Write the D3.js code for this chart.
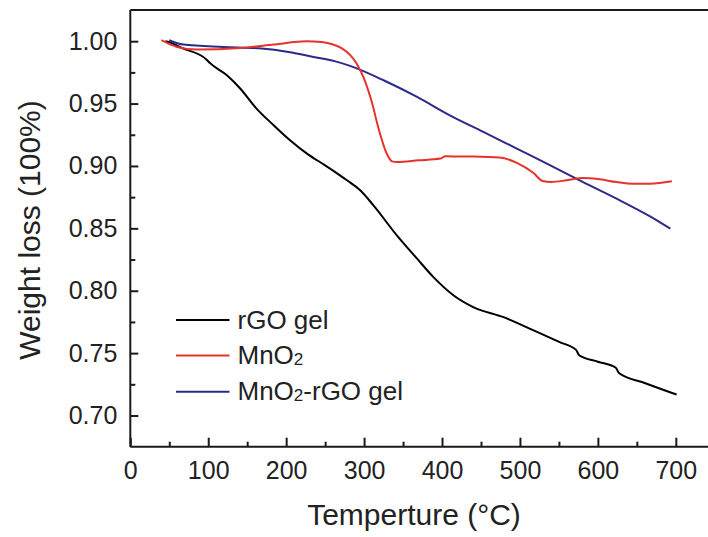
<!DOCTYPE html>
<html>
<head>
<meta charset="utf-8">
<script src="https://cdn.jsdelivr.net/npm/d3@7"></script>
<style>
  html, body { margin: 0; padding: 0; background: #fff; }
  svg { display: block; font-family: "Liberation Sans", Arial, sans-serif; }
</style>
</head>
<body>
<svg id="chart" width="708" height="537"></svg>
<script>
// ---- Data ----
const xTicks = [0, 100, 200, 300, 400, 500, 600, 700];
const xMinorTicks = [50, 150, 250, 350, 450, 550, 650, 750];
const yTicks = [0.70, 0.75, 0.80, 0.85, 0.90, 0.95, 1.00];
const yMinorTicks = [0.725, 0.775, 0.825, 0.875, 0.925, 0.975];

const rgoTemp = [45, 50, 66, 98, 102, 124, 141, 162, 184, 205, 228, 250, 269, 278, 295, 312, 342, 368, 389, 415, 440, 479, 513, 551, 572, 576, 600, 623, 627, 660, 701];
const rgoWeight = [1.000, 0.9992, 0.9946, 0.9852, 0.9826, 0.9727 + 0.000, 0.9621, 0.946, 0.9326, 0.9206, 0.9093, 0.9005, 0.8925, 0.8885, 0.8805, 0.8684, 0.8444, 0.8257, 0.8109, 0.7962, 0.7869, 0.7788, 0.7695, 0.7588, 0.7526, 0.7483, 0.7431, 0.7383, 0.7341, 0.7261, 0.7168];

const mno2Temp = [40, 60, 85, 141, 184, 226, 245, 258, 271, 282, 290, 299, 310, 318, 329, 336, 342, 370, 398, 404, 440, 474, 496, 517, 529, 540, 560, 581, 600, 624, 645, 667, 695];
const mno2Weight = [1.0008, 0.9954, 0.9933, 0.9946, 0.9973, 1.000, 0.9994, 0.9978, 0.9945, 0.9890, 0.9825, 0.9714, 0.9510, 0.9313, 0.9100, 0.9037, 0.9032, 0.9045, 0.9059, 0.9077, 0.9075, 0.9067, 0.9025, 0.8945, 0.8880, 0.8872, 0.8885, 0.8903, 0.8895, 0.8871, 0.8858, 0.8858, 0.8877];

const compTemp = [50, 68, 119, 165, 205, 235, 262, 282, 325, 368, 410, 453, 496, 539, 581, 624, 667, 693];
const compWeight = [1.0008, 0.9973, 0.9954, 0.9943, 0.9912, 0.9874, 0.9840, 0.9802, 0.9687, 0.9553, 0.9406, 0.9273, 0.9139, 0.9005, 0.8871, 0.8738, 0.8596, 0.8497];

const seriesNames = ["rGO gel", "MnO2", "MnO2-rGO gel"];
const seriesColors = ["#000000", "#e5332b", "#2c2a88"];

// ---- Layout ----
const svg = d3.select("#chart");
const W = 708, H = 537;
const plotLeft = 130.3, plotTop = 10, plotBottom = 446.7;

const x = d3.scaleLinear().domain([0, 780]).range([plotLeft, plotLeft + 780 * 0.7793]);
const y = d3.scaleLinear().domain([0.675, 1.025]).range([plotBottom, plotTop]);

const tickFont = 25;
const axisColor = "#1a1a1a";

// frame top
svg.append("line")
  .attr("x1", plotLeft).attr("x2", W + 5)
  .attr("y1", plotTop).attr("y2", plotTop)
  .attr("stroke", axisColor).attr("stroke-width", 2);

// X axis
const gx = svg.append("g").attr("transform", `translate(0,${plotBottom})`)
  .call(d3.axisBottom(x).tickValues(xTicks).tickSize(-9).tickSizeOuter(0).tickPadding(15).tickFormat(d3.format("d")));
gx.select(".domain").attr("d", `M${plotLeft},0H${W + 5}`).attr("stroke", axisColor).attr("stroke-width", 2);
gx.selectAll(".tick line").attr("stroke", axisColor).attr("stroke-width", 2);
gx.selectAll("text").attr("font-size", tickFont).attr("fill", "#222").attr("font-family", "Liberation Sans, Arial, sans-serif");

const gxm = svg.append("g").attr("transform", `translate(0,${plotBottom})`)
  .call(d3.axisBottom(x).tickValues(xMinorTicks).tickSize(-5).tickSizeOuter(0).tickFormat(""));
gxm.select(".domain").remove();
gxm.selectAll(".tick line").attr("stroke", axisColor).attr("stroke-width", 2);

// Y axis
const gy = svg.append("g").attr("transform", `translate(${plotLeft},0)`)
  .call(d3.axisLeft(y).tickValues(yTicks).tickSize(-8).tickSizeOuter(0).tickPadding(13).tickFormat(d3.format(".2f")));
gy.select(".domain").attr("d", `M0,${plotTop}V${plotBottom}`).attr("stroke", axisColor).attr("stroke-width", 2);
gy.selectAll(".tick line").attr("stroke", axisColor).attr("stroke-width", 2);
gy.selectAll("text").attr("font-size", tickFont).attr("fill", "#222").attr("font-family", "Liberation Sans, Arial, sans-serif");

const gym = svg.append("g").attr("transform", `translate(${plotLeft},0)`)
  .call(d3.axisLeft(y).tickValues(yMinorTicks).tickSize(-5).tickSizeOuter(0).tickFormat(""));
gym.select(".domain").remove();
gym.selectAll(".tick line").attr("stroke", axisColor).attr("stroke-width", 2);

// Axis titles
svg.append("text")
  .attr("x", 414).attr("y", 525)
  .attr("text-anchor", "middle")
  .attr("font-size", 30).attr("fill", "#222")
  .text("Temperture (\u00B0C)");

svg.append("text")
  .attr("transform", "translate(40,230) rotate(-90)")
  .attr("text-anchor", "middle")
  .attr("font-size", 30).attr("fill", "#222")
  .text("Weight loss (100%)");

// Lines
const series = [
  rgoTemp.map((t, i) => [t, rgoWeight[i]]),
  mno2Temp.map((t, i) => [t, mno2Weight[i]]),
  compTemp.map((t, i) => [t, compWeight[i]])
];
const line = d3.line().x(d => x(d[0])).y(d => y(d[1])).curve(d3.curveMonotoneX);

const drawOrder = [0, 2, 1];
drawOrder.forEach(i => {
  svg.append("path")
    .datum(series[i])
    .attr("d", line)
    .attr("fill", "none")
    .attr("stroke", seriesColors[i])
    .attr("stroke-width", 2)
    .attr("stroke-linejoin", "round");
});

// Legend
const legY = [y(0.7765), y(0.7480), y(0.7190)];
const leg = svg.append("g");
seriesNames.forEach((name, i) => {
  leg.append("line")
    .attr("x1", 176).attr("x2", 229.5)
    .attr("y1", legY[i]).attr("y2", legY[i])
    .attr("stroke", seriesColors[i]).attr("stroke-width", 2);
  const t = leg.append("text")
    .attr("x", 237.5).attr("y", legY[i] + 8.5)
    .attr("font-size", 26).attr("fill", "#222");
  const m = name.match(/^(MnO)2(.*)$/);
  if (m) {
    t.append("tspan").text(m[1]);
    t.append("tspan").attr("font-size", 17).attr("dy", 1).text("2");
    if (m[2]) t.append("tspan").attr("dy", -1).text(m[2]);
  } else {
    t.text(name);
  }
});
</script>
</body>
</html>
